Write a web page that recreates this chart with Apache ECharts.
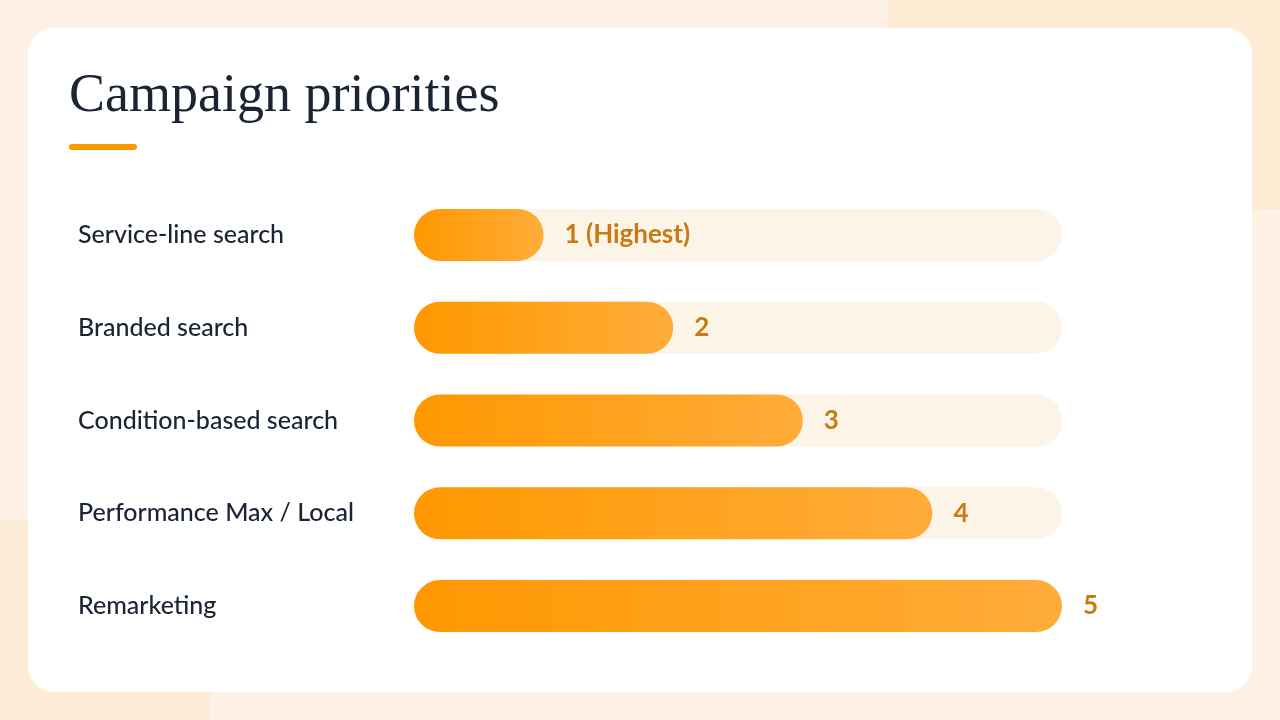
<!DOCTYPE html>
<html>
<head>
<meta charset="utf-8">
<script src="https://cdn.jsdelivr.net/npm/echarts@6/dist/echarts.min.js"></script>
<style>
html,body{margin:0;padding:0;background:#fdf2e5;}
#chart{width:1280px;height:720px;}
</style>
</head>
<body>
<div id="chart"></div>
<script>
var categories = ['Service-line search','Branded search','Condition-based search','Performance Max / Local','Remarketing'];
var priorities = [1, 2, 3, 4, 5];
var valueLabels = ['1 (Highest)', '2', '3', '4', '5'];
var axisMax = 5;
var titleText = 'Campaign priorities';

var chart = echarts.init(document.getElementById('chart'), null, {renderer:'canvas'});
var barGradient = new echarts.graphic.LinearGradient(0,0,1,0,[
  {offset:0, color:'#ff9800'},
  {offset:1, color:'#ffac3a'}
]);
chart.setOption({
  backgroundColor:'#fdf2e5',
  graphic:[
    {type:'rect', shape:{x:888, y:-120, width:520, height:330, r:50}, style:{fill:'#fdebd4'}, silent:true, z:-10},
    {type:'rect', shape:{x:-150, y:520, width:360, height:320, r:60}, style:{fill:'#fcebd6'}, silent:true, z:-10},
    {type:'rect', shape:{x:28, y:28, width:1224, height:664, r:26}, style:{fill:'#ffffff'}, silent:true, z:-5},
    {type:'text', left:69, top:70, style:{text:titleText, fontFamily:'"Liberation Serif", serif', fontSize:54, fill:'#1b2433'}, z:10},
    {type:'rect', shape:{x:69, y:144, width:68, height:6, r:3}, style:{fill:'#ff9800'}, z:10}
  ],
  grid:{left:414, right:218, top:188.6, bottom:67.6, containLabel:false},
  xAxis:{type:'value', min:0, max:axisMax, show:false},
  yAxis:{
    type:'category', data:categories, inverse:true,
    axisLine:{show:false}, axisTick:{show:false},
    axisLabel:{margin:336, align:'left', color:'#1b2433', fontSize:25, fontWeight:500, fontFamily:'Lato, sans-serif', padding:[6,0,0,0]}
  },
  series:[{
    type:'bar', data:priorities, barWidth:52,
    showBackground:true,
    backgroundStyle:{color:'#fdf4e8', borderRadius:26},
    itemStyle:{color:barGradient, borderRadius:26},
    label:{show:true, position:'right', distance:21, color:'#c97a12', fontSize:26, fontWeight:'bold', fontFamily:'Lato, sans-serif',
      padding:[5,0,0,0],
      formatter:function(p){return valueLabels[p.dataIndex];}},
    silent:true
  }],
  animation:false
});
</script>
</body>
</html>
